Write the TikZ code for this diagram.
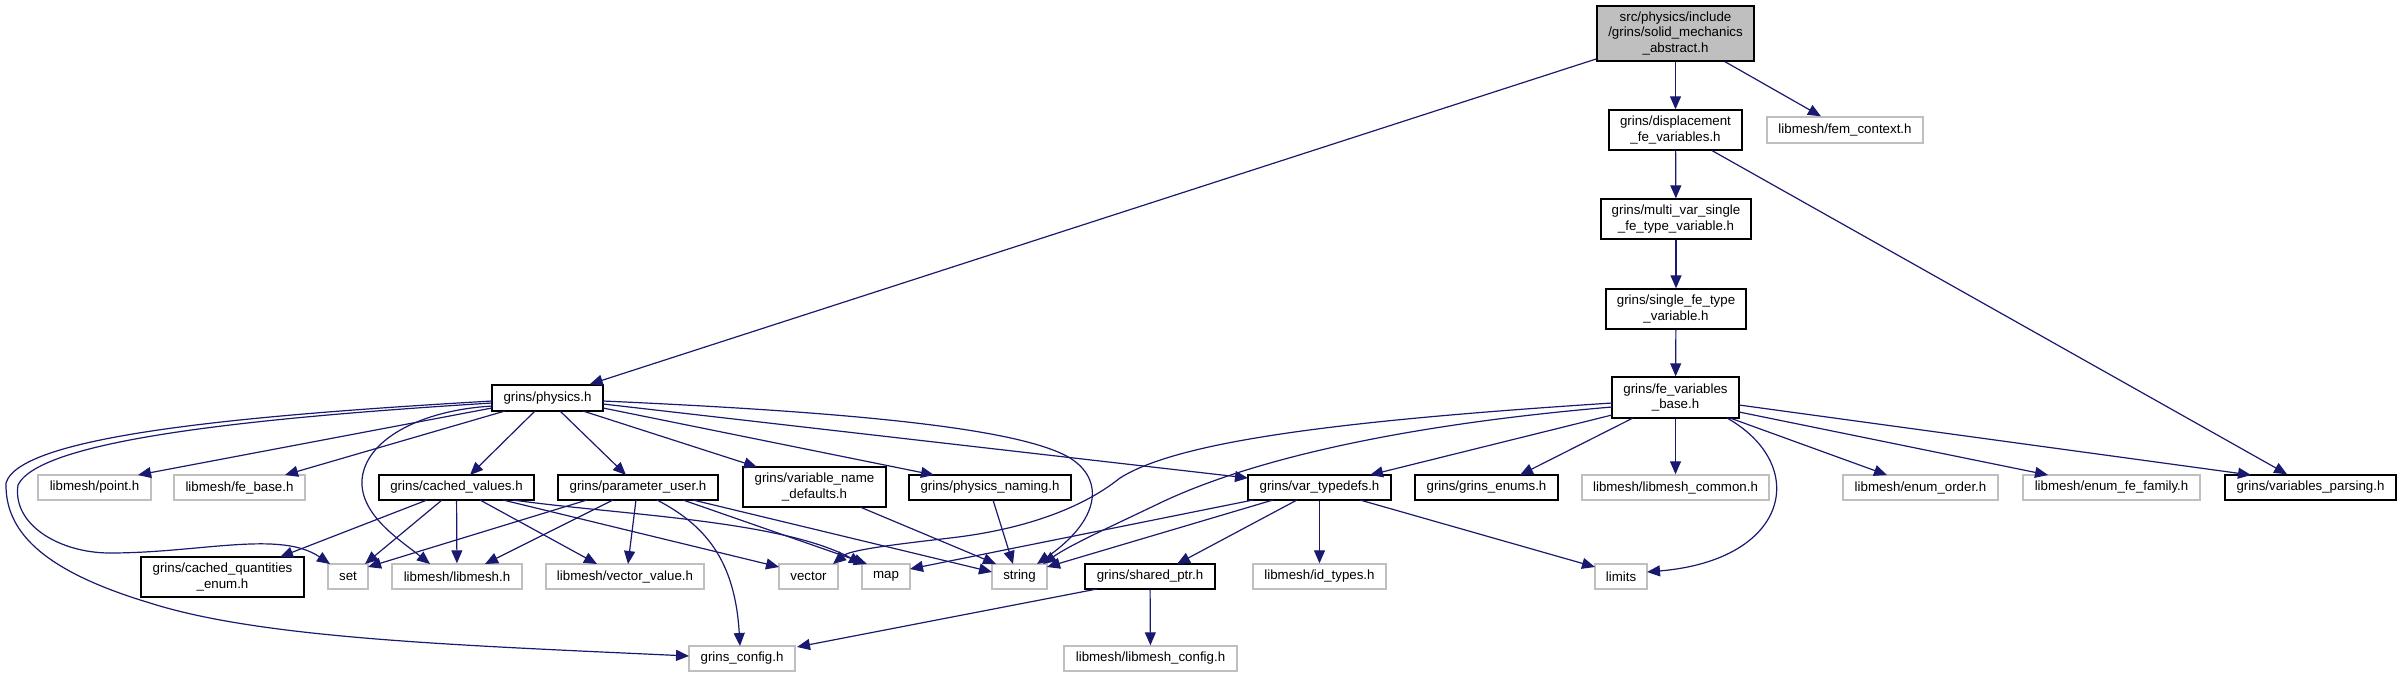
\documentclass[tikz,border=0pt]{standalone}
\usepackage{fontspec}
\setmainfont{Liberation Sans}
\usetikzlibrary{arrows.meta}
\definecolor{edgec}{HTML}{191970}
\definecolor{greyb}{HTML}{BFBFBF}
\begin{document}
\begin{tikzpicture}[x=1pt,y=-1pt,
  gnode/.style={draw=black, fill=white, line width=1.4pt, inner sep=0pt, align=center,
                font=\fontsize{13.3}{15.3}\selectfont},
  xnode/.style={gnode, draw=greyb},
  dep/.style={draw=edgec, line width=1.2pt, -{Triangle[length=13pt,width=11pt]}}]
\useasboundingbox[fill=white] (0,0) rectangle (2401,677);
% ---- nodes ----
\node[gnode, fill=greyb, minimum width=157pt, minimum height=55pt] (root) at (1675.5,33.5) {src/physics/include\\/grins/solid\_mechanics\\\_abstract.h};
\node[gnode, minimum width=133pt, minimum height=40pt] (disp) at (1675.5,130) {grins/displacement\\\_fe\_variables.h};
\node[xnode, minimum width=156pt, minimum height=26pt] (femctx) at (1845,130) {libmesh/fem\_context.h};
\node[gnode, minimum width=150pt, minimum height=40pt] (multi) at (1676,219) {grins/multi\_var\_single\\\_fe\_type\_variable.h};
\node[gnode, minimum width=140pt, minimum height=40pt] (single) at (1676,309) {grins/single\_fe\_type\\\_variable.h};
\node[gnode, minimum width=127pt, minimum height=41pt] (febase) at (1675.5,397.5) {grins/fe\_variables\\\_base.h};
\node[gnode, minimum width=111pt, minimum height=26pt] (physics) at (547.5,398) {grins/physics.h};
% row 5
\node[xnode, minimum width=113pt, minimum height=25pt] (point) at (94.5,487.5) {libmesh/point.h};
\node[xnode, minimum width=131pt, minimum height=25pt] (feb) at (239.5,487.5) {libmesh/fe\_base.h};
\node[gnode, minimum width=155pt, minimum height=25pt] (cached) at (456.5,487.5) {grins/cached\_values.h};
\node[gnode, minimum width=160pt, minimum height=25pt] (param) at (638,487.5) {grins/parameter\_user.h};
\node[gnode, minimum width=143pt, minimum height=40pt] (varname) at (814.5,487) {grins/variable\_name\\\_defaults.h};
\node[gnode, minimum width=162pt, minimum height=25pt] (physnaming) at (990,487.5) {grins/physics\_naming.h};
\node[gnode, minimum width=143pt, minimum height=25pt] (vartypedefs) at (1319.5,487.5) {grins/var\_typedefs.h};
\node[gnode, minimum width=143pt, minimum height=25pt] (enums) at (1486.5,487.5) {grins/grins\_enums.h};
\node[xnode, minimum width=187pt, minimum height=25pt] (common) at (1675.5,487.5) {libmesh/libmesh\_common.h};
\node[xnode, minimum width=155pt, minimum height=25pt] (enumorder) at (1920.5,487.5) {libmesh/enum\_order.h};
\node[xnode, minimum width=177pt, minimum height=25pt] (enumfe) at (2111.5,487.5) {libmesh/enum\_fe\_family.h};
\node[gnode, minimum width=171pt, minimum height=25pt] (varparsing) at (2310.5,487.5) {grins/variables\_parsing.h};
% row 6
\node[gnode, minimum width=163pt, minimum height=40pt] (cqe) at (222.5,577) {grins/cached\_quantities\\\_enum.h};
\node[xnode, minimum width=40pt, minimum height=25pt] (set) at (348,576.5) {set};
\node[xnode, minimum width=130pt, minimum height=25pt] (libmesh) at (457,576.5) {libmesh/libmesh.h};
\node[xnode, minimum width=158pt, minimum height=25pt] (vecval) at (625,576.5) {libmesh/vector\_value.h};
\node[xnode, minimum width=59pt, minimum height=25pt] (vector) at (808.5,576.5) {vector};
\node[xnode, minimum width=48pt, minimum height=25pt] (map) at (886,576.5) {map};
\node[xnode, minimum width=55pt, minimum height=25pt] (string) at (1019.5,576.5) {string};
\node[gnode, minimum width=130pt, minimum height=25pt] (sharedptr) at (1150,576.5) {grins/shared\_ptr.h};
\node[xnode, minimum width=133pt, minimum height=25pt] (idtypes) at (1319.5,576.5) {libmesh/id\_types.h};
\node[xnode, minimum width=52pt, minimum height=25pt] (limits) at (1621,576.5) {limits};
% row 7
\node[xnode, minimum width=106pt, minimum height=25pt] (config) at (742,658.5) {grins\_config.h};
\node[xnode, minimum width=173pt, minimum height=25pt] (lmconfig) at (1150.5,658.5) {libmesh/libmesh\_config.h};
% ---- edges ----
\draw[dep] (root) -- (physics);
\draw[dep] (root) -- (disp);
\draw[dep] (root) -- (femctx);
\draw[dep] (disp) -- (multi);
\draw[dep] (disp) -- (varparsing);
\draw[dep] (multi) -- (single);
\draw[dep] (single) -- (febase);
% physics.h
\draw[dep] ([shift={(-55.5,10)}]physics.center) -- ([shift={(43.5,-12.5)}]point.center);
\draw[dep] ([shift={(-42.5,13)}]physics.center) -- ([shift={(45.5,-12.5)}]feb.center);
\draw[dep] ([shift={(-12.5,13)}]physics.center) -- ([shift={(13.5,-12.5)}]cached.center);
\draw[dep] ([shift={(12.5,13)}]physics.center) -- ([shift={(-12,-12.5)}]param.center);
\draw[dep] ([shift={(35.5,13)}]physics.center) -- ([shift={(-57.5,-20)}]varname.center);
\draw[dep] ([shift={(55.5,10)}]physics.center) -- ([shift={(-56,-12.5)}]physnaming.center);
\draw[dep] ([shift={(55.5,6)}]physics.center) -- ([shift={(-71.5,-9.5)}]vartypedefs.center);
\draw[dep] ([shift={(55.5,3)}]physics.center) .. controls (850,412) and (1020,428) .. (1070,458)
   .. controls (1105,480) and (1100,520) .. ([shift={(17.5,-12.5)}]string.center);
\draw[dep] ([shift={(-55.5,5)}]physics.center) .. controls (250,418) and (40,440) .. (18,485)
   .. controls (12,525) and (60,553) .. (110,553)
   .. controls (200,553) and (280,530) .. ([shift={(-18,-12.5)}]set.center);
\draw[dep] ([shift={(-55.5,3)}]physics.center) .. controls (250,415) and (20,435) .. (6,483)
   .. controls (5,530) and (40,570) .. (150,603)
   .. controls (260,638) and (450,645) .. ([shift={(-53,-2.5)}]config.center);
\draw[dep] ([shift={(-54.5,8)}]physics.center) .. controls (420,410) and (365,440) .. (362,480)
   .. controls (360,515) and (400,540) .. ([shift={(-27,-12.5)}]libmesh.center);
% cached_values
\draw[dep] ([shift={(-29.5,12.5)}]cached.center) -- ([shift={(57.5,-20)}]cqe.center);
\draw[dep] ([shift={(-14.5,12.5)}]cached.center) -- ([shift={(17,-12.5)}]set.center);
\draw[dep] (cached) -- (libmesh);
\draw[dep] ([shift={(23.5,12.5)}]cached.center) -- ([shift={(-28,-12.5)}]vecval.center);
\draw[dep] ([shift={(46.5,12.5)}]cached.center) -- ([shift={(-29.5,-9.5)}]vector.center);
\draw[dep] ([shift={(56.5,12.5)}]cached.center) .. controls (620,515) and (780,520) .. ([shift={(-24,-12.5)}]map.center);
% parameter_user
\draw[dep] ([shift={(-51,12.5)}]param.center) -- ([shift={(20,-9.5)}]set.center);
\draw[dep] ([shift={(-25,12.5)}]param.center) -- ([shift={(28,-12.5)}]libmesh.center);
\draw[dep] ([shift={(-2,12.5)}]param.center) -- ([shift={(3,-12.5)}]vecval.center);
\draw[dep] ([shift={(19,12.5)}]param.center) .. controls (705,525) and (735,560) .. ([shift={(-2,-12.5)}]config.center);
\draw[dep] ([shift={(45,12.5)}]param.center) -- ([shift={(-19,-12.5)}]map.center);
\draw[dep] ([shift={(55,12.5)}]param.center) -- ([shift={(-27.5,-4.5)}]string.center);
% variable_name_defaults, physics_naming
\draw[dep] ([shift={(45.5,20)}]varname.center) -- ([shift={(-23.5,-12.5)}]string.center);
\draw[dep] ([shift={(3,12.5)}]physnaming.center) -- ([shift={(-6.5,-12.5)}]string.center);
% var_typedefs
\draw[dep] ([shift={(-66.5,12.5)}]vartypedefs.center) -- ([shift={(24,-7.5)}]map.center);
\draw[dep] ([shift={(-46.5,12.5)}]vartypedefs.center) -- ([shift={(27.5,-9.5)}]string.center);
\draw[dep] ([shift={(-22.5,12.5)}]vartypedefs.center) -- ([shift={(27,-12.5)}]sharedptr.center);
\draw[dep] (vartypedefs) -- (idtypes);
\draw[dep] ([shift={(40.5,12.5)}]vartypedefs.center) -- ([shift={(-26,-9.5)}]limits.center);
% fe_variables_base
\draw[dep] ([shift={(-63.5,5.5)}]febase.center) .. controls (1350,420) and (1180,440) .. (1120,478)
   .. controls (1080,510) and (1020,530) .. (950,538)
   .. controls (890,545) and (850,550) .. ([shift={(24.5,-12.5)}]vector.center);
\draw[dep] ([shift={(-63.5,9.5)}]febase.center) .. controls (1400,425) and (1250,460) .. (1160,503)
   .. controls (1110,527) and (1070,545) .. ([shift={(23.5,-12.5)}]string.center);
\draw[dep] ([shift={(-63.5,17.5)}]febase.center) -- ([shift={(50.5,-12.5)}]vartypedefs.center);
\draw[dep] ([shift={(-42.5,20.5)}]febase.center) -- ([shift={(33.5,-12.5)}]enums.center);
\draw[dep] (febase) -- (common);
\draw[dep] ([shift={(51.5,20.5)}]febase.center) .. controls (1810,465) and (1790,560) .. ([shift={(26,-4.5)}]limits.center);
\draw[dep] ([shift={(54.5,20.5)}]febase.center) -- ([shift={(-33.5,-12.5)}]enumorder.center);
\draw[dep] ([shift={(63.5,14.5)}]febase.center) -- ([shift={(-63.5,-12.5)}]enumfe.center);
\draw[dep] ([shift={(63.5,7.5)}]febase.center) -- ([shift={(-59.5,-12.5)}]varparsing.center);
% shared_ptr
\draw[dep] ([shift={(-53,12.5)}]sharedptr.center) -- ([shift={(55,-11.5)}]config.center);
\draw[dep] (sharedptr) -- (lmconfig);
\end{tikzpicture}
\end{document}
